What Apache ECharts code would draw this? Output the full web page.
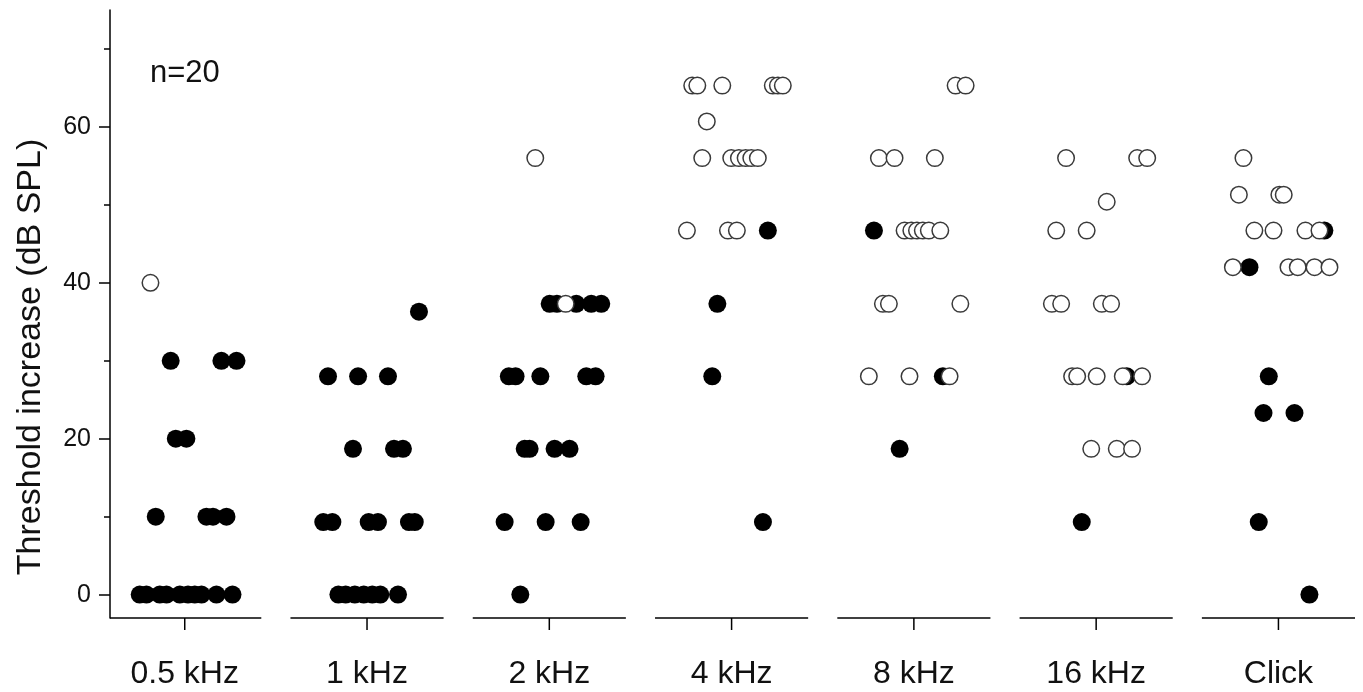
<!DOCTYPE html>
<html>
<head>
<meta charset="utf-8">
<script src="https://cdn.jsdelivr.net/npm/echarts@6/dist/echarts.min.js"></script>
<style>
  html, body { margin: 0; padding: 0; background: #fff; }
  #chart { width: 1363px; height: 692px; }
</style>
</head>
<body>
<div id="chart"></div>
<script>
// ---- data ----
const categories = ['0.5 kHz', '1 kHz', '2 kHz', '4 kHz', '8 kHz', '16 kHz', 'Click'];
const yMajorTicks = [0, 20, 40, 60];
const yMinorTicks = [10, 30, 50, 70];
const annotation = 'n=20';

// each point: [horizontal jitter within its category, threshold increase dB]
const filled05k = [[-0.247,0],[-0.210,0],[-0.137,0],[-0.100,0],[-0.027,0],[0.018,0],[0.055,0],[0.092,0],[0.174,0],[0.262,0],
  [-0.159,10],[0.119,10],[0.155,10],[0.229,10],[-0.049,20],[0.009,20],[-0.077,30],[0.201,30],[0.284,30]];
const open05k = [[-0.188,40]];

const filled1k = [[0.285,36.3],[-0.214,28],[-0.049,28],[0.115,28],[-0.077,18.7],[0.148,18.7],[0.197,18.7],
  [-0.240,9.3],[-0.190,9.3],[0.009,9.3],[0.060,9.3],[0.230,9.3],[0.262,9.3],
  [-0.157,0],[-0.117,0],[-0.067,0],[-0.018,0],[0.029,0],[0.073,0],[0.170,0]];
const open1k = [];

const filled2k = [[0.002,37.3],[0.042,37.3],[0.148,37.3],[0.230,37.3],[0.285,37.3],
  [-0.222,28],[-0.185,28],[-0.049,28],[0.203,28],[0.254,28],
  [-0.135,18.7],[-0.108,18.7],[0.029,18.7],[0.111,18.7],
  [-0.245,9.3],[-0.020,9.3],[0.172,9.3],[-0.159,0]];
const open2k = [[-0.077,56],[0.090,37.3]];

const filled4k = [[0.199,46.7],[-0.078,37.3],[-0.106,28],[0.172,9.3]];
const open4k = [[-0.216,65.3],[-0.188,65.3],[-0.051,65.3],[0.226,65.3],[0.254,65.3],[0.281,65.3],
  [-0.136,60.7],
  [-0.161,56],[-0.002,56],[0.040,56],[0.077,56],[0.108,56],[0.144,56],
  [-0.245,46.7],[-0.020,46.7],[0.029,46.7]];

const filled8k = [[-0.219,46.7],[0.159,28],[-0.078,18.7]];
const open8k = [[0.229,65.3],[0.284,65.3],[-0.192,56],[-0.106,56],[0.115,56],
  [-0.051,46.7],[-0.014,46.7],[0.017,46.7],[0.049,46.7],[0.082,46.7],[0.145,46.7],
  [-0.170,37.3],[-0.137,37.3],[0.255,37.3],[-0.247,28],[-0.024,28],[0.196,28]];

const filled16k = [[0.168,28],[-0.079,9.3]];
const open16k = [[-0.165,56],[0.225,56],[0.280,56],[0.058,50.4],[-0.219,46.7],[-0.052,46.7],
  [-0.243,37.3],[-0.192,37.3],[0.031,37.3],[0.082,37.3],
  [-0.132,28],[-0.104,28],[0.003,28],[0.146,28],[0.252,28],
  [-0.027,18.7],[0.113,18.7],[0.197,18.7]];

const filledClick = [[0.252,46.7],[-0.159,42],[-0.053,28],[-0.082,23.3],[0.088,23.3],[-0.108,9.3],[0.170,0]];
const openClick = [[-0.192,56],[-0.217,51.3],[0.005,51.3],[0.029,51.3],
  [-0.132,46.7],[-0.027,46.7],[0.148,46.7],[0.225,46.7],
  [-0.250,42],[0.055,42],[0.106,42],[0.198,42],[0.280,42]];

const filledByCategory = [filled05k, filled1k, filled2k, filled4k, filled8k, filled16k, filledClick];
const openByCategory = [open05k, open1k, open2k, open4k, open8k, open16k, openClick];

// ---- build ----
const Y_MIN = -3, Y_MAX = 75;
const X_MIN = -0.41, X_MAX = 6.42;
const HALF = 0.42;
const FONT = 'Liberation Sans, Arial, sans-serif';

function place(groups) {
  const out = [];
  groups.forEach((pts, i) => pts.forEach(p => out.push([i + p[0], p[1]])));
  return out;
}

const chart = echarts.init(document.getElementById('chart'), null, { renderer: 'canvas' });
chart.setOption({
  backgroundColor: '#fff',
  animation: false,
  grid: { left: 110, right: 8, top: 10, bottom: 74, outerBoundsMode: 'none' },
  graphic: [{
    type: 'text', left: 150, top: 58,
    style: { text: annotation, font: '31px ' + FONT, fill: '#111' }
  }],
  xAxis: {
    type: 'value', min: X_MIN, max: X_MAX,
    axisLine: { show: false, onZero: false }, axisTick: { show: false }, splitLine: { show: false },
    axisLabel: {
      customValues: categories.map((_, i) => i),
      formatter: v => categories[Math.round(v)] || '',
      fontFamily: FONT, fontSize: 32, color: '#111', margin: 40
    }
  },
  yAxis: [{
    type: 'value', min: Y_MIN, max: Y_MAX,
    name: 'Threshold increase (dB SPL)', nameLocation: 'middle', nameGap: 62,
    nameTextStyle: { fontFamily: FONT, fontSize: 34, color: '#111', padding: [0, 86, 0, 0] },
    axisLine: { show: true, onZero: false, lineStyle: { color: '#000', width: 1.5 } },
    axisTick: { show: true, customValues: yMajorTicks, length: 11, lineStyle: { color: '#000', width: 1.5 } },
    axisLabel: { customValues: yMajorTicks, fontFamily: FONT, fontSize: 25, color: '#111', margin: 19 },
    splitLine: { show: false }
  }, {
    type: 'value', min: Y_MIN, max: Y_MAX, position: 'left',
    axisLine: { show: false, onZero: false },
    axisTick: { show: true, customValues: yMinorTicks, length: 6, lineStyle: { color: '#000', width: 1.5 } },
    axisLabel: { show: false },
    splitLine: { show: false }
  }],
  series: [{
    type: 'custom', silent: true, clip: false, z: 1,
    data: categories.map((_, i) => [i, Y_MIN]),
    renderItem: (params, api) => {
      const i = api.value(0);
      const a = api.coord([Math.max(i - HALF, X_MIN), Y_MIN]);
      const b = api.coord([i + HALF, Y_MIN]);
      const c = api.coord([i, Y_MIN]);
      return {
        type: 'group', children: [
          { type: 'line', shape: { x1: a[0], y1: a[1], x2: b[0], y2: b[1] }, style: { stroke: '#000', lineWidth: 1.5 } },
          { type: 'line', shape: { x1: c[0], y1: c[1], x2: c[0], y2: c[1] + 12 }, style: { stroke: '#000', lineWidth: 1.5 } }
        ]
      };
    }
  }, {
    type: 'scatter', name: 'filled', z: 3,
    data: place(filledByCategory),
    symbol: 'circle', symbolSize: 18,
    itemStyle: { color: '#000', opacity: 1 }
  }, {
    type: 'scatter', name: 'open', z: 4,
    data: place(openByCategory),
    symbol: 'circle', symbolSize: 16.5,
    itemStyle: { color: '#fff', borderColor: '#3a3a3a', borderWidth: 1.5, opacity: 1 }
  }]
});
</script>
</body>
</html>
